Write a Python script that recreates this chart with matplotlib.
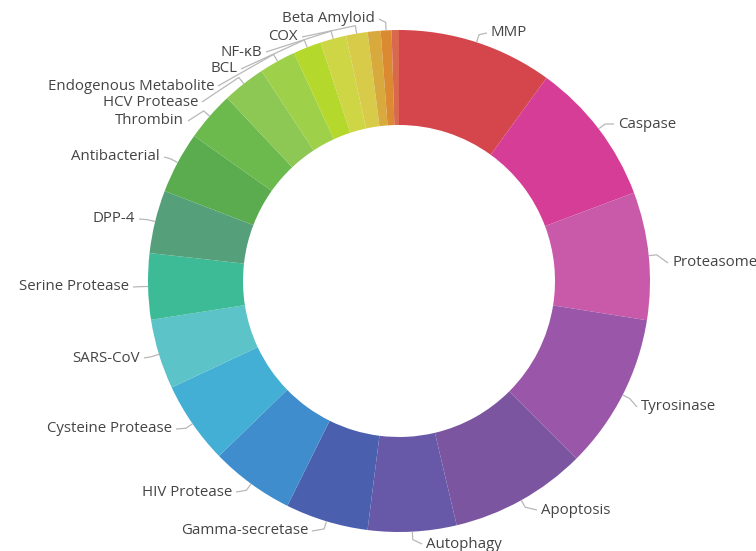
import numpy as np
import matplotlib
matplotlib.use("Agg")
import matplotlib.pyplot as plt

plt.rcParams['font.family'] = ['Open Sans', 'DejaVu Sans']

categories = ["MMP", "Caspase", "Proteasome", "Tyrosinase", "Apoptosis", "Autophagy",
              "Gamma-secretase", "HIV Protease", "Cysteine Protease", "SARS-CoV",
              "Serine Protease", "DPP-4", "Antibacterial", "Thrombin", "HCV Protease",
              "Endogenous Metabolite", "BCL", "NF-κB", "COX", "", "Beta Amyloid", ""]
values = [36.0, 33.4, 29.6, 36.0, 31.7, 20.5, 19.2, 19.4, 19.1, 16.2, 15.3, 14.6,
          14.3, 11.5, 10.0, 8.5, 6.5, 6.0, 5.0, 3.0, 2.5, 1.7]
colors = ["#d4464b", "#d63d97", "#c95aa9", "#9a56a8", "#7b55a0", "#6859a8",
          "#4a60ae", "#3f8dcc", "#43afd5", "#5cc3c9", "#3dbb96", "#55a07b",
          "#5aac4f", "#6cb94e", "#8cc853", "#9ed04a", "#b5d82c", "#cfd645",
          "#d9cb4a", "#d8aa3e", "#db8a31", "#d9684f"]

# label layout (pixel positions of text anchors)
label_pos = {
    "MMP": (491, 33, "left"), "Caspase": (618, 124, "left"),
    "Proteasome": (672, 263, "left"), "Tyrosinase": (641, 407, "left"),
    "Apoptosis": (541, 510, "left"), "Autophagy": (426, 544, "left"),
    "Gamma-secretase": (308, 531, "right"), "HIV Protease": (232, 492, "right"),
    "Cysteine Protease": (172, 429, "right"), "SARS-CoV": (140, 358, "right"),
    "Serine Protease": (129, 287, "right"), "DPP-4": (135, 219, "right"),
    "Antibacterial": (160, 157, "right"), "Thrombin": (184, 121, "right"),
    "HCV Protease": (198, 102, "right"), "Endogenous Metabolite": (214, 86, "right"),
    "BCL": (237, 69, "right"), "NF-κB": (262, 52, "right"),
    "COX": (298, 37, "right"), "Beta Amyloid": (375, 19, "right"),
}

W, H = 756, 551
fig = plt.figure(figsize=(W / 100, H / 100), dpi=100)
ax = fig.add_axes([0, 0, 1, 1])

cx, cy, R, ring = 399, 281, 251, 95
wedges, _ = ax.pie(values, colors=colors, center=(cx, cy), radius=R,
                   startangle=-90, counterclock=True,
                   wedgeprops=dict(width=ring, linewidth=0))
ax.set_xlim(0, W)
ax.set_ylim(H, 0)
ax.set_aspect('equal')
ax.axis('off')

total = sum(values)
cum = np.cumsum([0] + values)
for i, name in enumerate(categories):
    if not name:
        continue
    mid = (cum[i] + values[i] / 2) / total * 2 * np.pi
    px, py = cx + R * np.sin(mid), cy - R * np.cos(mid)
    ex, ey = cx + (R + 8) * np.sin(mid), cy - (R + 8) * np.cos(mid)
    tx, ty, ha = label_pos[name]
    lx = tx - 4 if ha == "left" else tx + 4
    ax.plot([px, ex, lx], [py, ey, ty], color="#b8b8b8", lw=0.9, solid_capstyle='butt')
    ax.text(tx, ty, name, ha=ha, va="center", fontsize=10.8, color="#444444")

fig.savefig("out.png", dpi=100)
